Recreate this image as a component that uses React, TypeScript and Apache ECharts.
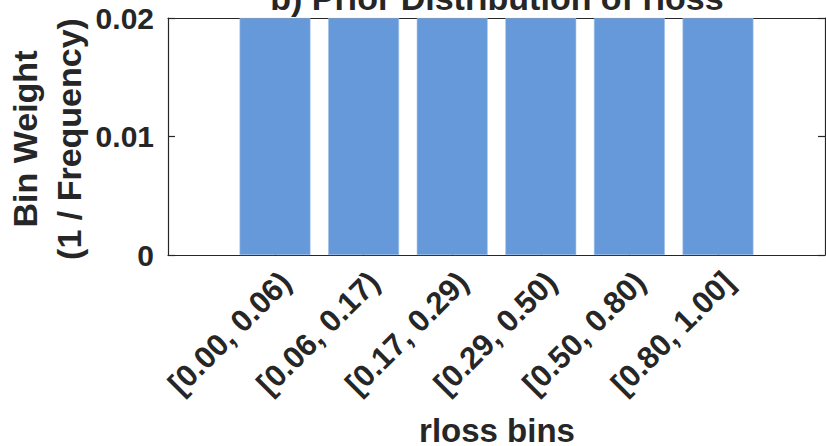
import React, { useEffect, useRef } from "react";
import * as echarts from "echarts";

const categories = [
  "[0.00, 0.06)",
  "[0.06, 0.17)",
  "[0.17, 0.29)",
  "[0.29, 0.50)",
  "[0.50, 0.80)",
  "[0.80, 1.00]",
];
const binWeights = [0.02, 0.02, 0.02, 0.02, 0.02, 0.02];
const yTickValues = [0, 0.01, 0.02];
const titleText = "b) Prior Distribution of rloss";
const xName = "rloss bins";
const yName = "Bin Weight\n(1 / Frequency)";

const FONT = "'Liberation Sans', Arial, Helvetica, sans-serif";
const INK = "#262626";

export default function App() {
  const ref = useRef<HTMLDivElement>(null);
  useEffect(() => {
    if (!ref.current) return;
    const chart = echarts.init(ref.current, null, { renderer: "svg" });
    const positions = categories.map((_, i) => i + 1);
    const labelPositions = positions.map((p) => p + 0.12);
    const xMin = -0.208;
    const xMax = 7.208;
    chart.setOption({
      animation: false,
      backgroundColor: "#ffffff",
      grid: { left: 168, right: 1, top: 18, bottom: 191, containLabel: false },
      xAxis: [
        {
          type: "value",
          min: xMin,
          max: xMax,
          position: "bottom",
          axisLine: { show: true, onZero: false, lineStyle: { color: INK, width: 1.2 } },
          axisTick: { show: true, inside: true, length: 7, customValues: positions, lineStyle: { color: INK, width: 1.2 } },
          axisLabel: {
            show: true,
            customValues: labelPositions,
            rotate: 45,
            margin: 22,
            fontSize: 31,
            fontWeight: "bold",
            fontFamily: FONT,
            color: INK,
            formatter: (v: number) => categories[Math.round(v) - 1] ?? "",
          },
          splitLine: { show: false },
        },
        {
          type: "value",
          min: xMin,
          max: xMax,
          position: "top",
          axisLine: { show: true, onZero: false, lineStyle: { color: INK, width: 1.2 } },
          axisTick: { show: true, inside: true, length: 7, customValues: positions, lineStyle: { color: INK, width: 1.2 } },
          axisLabel: { show: false },
          splitLine: { show: false },
        },
      ],
      yAxis: [
        {
          type: "value",
          min: 0,
          max: 0.02,
          interval: 0.01,
          position: "left",
          axisLine: { show: true, onZero: false, lineStyle: { color: INK, width: 1.2 } },
          axisTick: { show: true, inside: true, length: 7, customValues: yTickValues, lineStyle: { color: INK, width: 1.2 } },
          axisLabel: {
            show: true,
            customValues: yTickValues,
            margin: 14,
            fontSize: 30,
            fontWeight: "bold",
            fontFamily: FONT,
            color: INK,
            formatter: (v: number) => (v === 0 ? "0" : v.toFixed(2)),
          },
          splitLine: { show: false },
        },
        {
          type: "value",
          min: 0,
          max: 0.02,
          interval: 0.01,
          position: "right",
          axisLine: { show: true, onZero: false, lineStyle: { color: INK, width: 1.2 } },
          axisTick: { show: true, inside: true, length: 7, customValues: yTickValues, lineStyle: { color: INK, width: 1.2 } },
          axisLabel: { show: false },
          splitLine: { show: false },
        },
      ],
      series: [
        {
          type: "bar",
          xAxisIndex: 0,
          yAxisIndex: 0,
          barWidth: "80%",
          data: binWeights.map((v, i) => [positions[i], v]),
          itemStyle: { color: "#6699DA", borderColor: "#9dbde6", borderWidth: 0.6 },
          z: 1,
        },
      ],
      graphic: [
        {
          type: "text",
          x: 497,
          y: -2,
          style: {
            text: titleText,
            fontSize: 34,
            fontWeight: "bold",
            fontFamily: FONT,
            fill: INK,
            align: "center",
            verticalAlign: "middle",
          },
        },
        {
          type: "text",
          x: 47,
          y: 139,
          rotation: Math.PI / 2,
          style: {
            text: yName,
            fontSize: 34,
            lineHeight: 44,
            fontWeight: "bold",
            fontFamily: FONT,
            fill: INK,
            align: "center",
            verticalAlign: "middle",
          },
        },
        {
          type: "text",
          x: 497,
          y: 430,
          style: {
            text: xName,
            fontSize: 33,
            fontWeight: "bold",
            fontFamily: FONT,
            fill: INK,
            align: "center",
            verticalAlign: "middle",
          },
        },
      ],
    });
    return () => chart.dispose();
  }, []);
  return <div ref={ref} style={{ width: 826, height: 446, position: "fixed", left: 0, top: 0 }} />;
}
